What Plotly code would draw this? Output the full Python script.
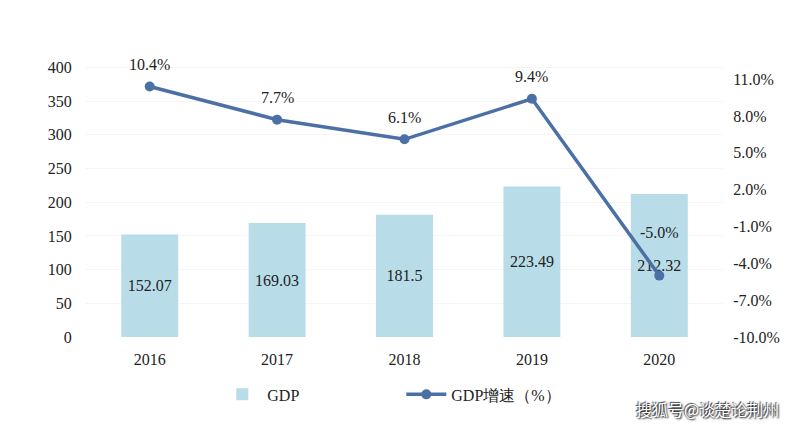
import plotly.graph_objects as go

years = ["2016", "2017", "2018", "2019", "2020"]
gdp = [152.07, 169.03, 181.5, 223.49, 212.32]
gdp_labels = ["152.07", "169.03", "181.5", "223.49", "212.32"]
growth = [10.4, 7.7, 6.1, 9.4, -5.0]
growth_labels = ["10.4%", "7.7%", "6.1%", "9.4%", "-5.0%"]
left_ticks = [0, 50, 100, 150, 200, 250, 300, 350, 400]
right_ticks = [-10, -7, -4, -1, 2, 5, 8, 11]
right_tick_labels = ["-10.0%", "-7.0%", "-4.0%", "-1.0%", "2.0%", "5.0%", "8.0%", "11.0%"]

xpos = list(range(len(years)))
label_shift = [22, 22, 22, 22, 43]

serif = "Liberation Serif, Times New Roman, serif"
txt = "#222222"

fig = go.Figure()
fig.add_trace(go.Bar(
    x=xpos, y=gdp, name="GDP", width=0.447,
    marker=dict(color="#b8dde8", line=dict(width=0)),
    text=gdp_labels, textposition="inside", insidetextanchor="middle",
    textfont=dict(family=serif, size=16, color=txt),
    yaxis="y",
))
fig.add_trace(go.Scatter(
    x=xpos, y=growth, name="GDP增速（%）", mode="lines+markers",
    line=dict(color="#4a70a5", width=3.5),
    marker=dict(color="#4a70a5", size=10),
    yaxis="y2",
))

for x, y, t, s in zip(xpos, growth, growth_labels, label_shift):
    fig.add_annotation(x=x, y=y, xref="x", yref="y2", text=t, showarrow=False,
                       yshift=s, font=dict(family=serif, size=16, color=txt))

fig.add_annotation(xref="paper", yref="paper", x=1.0905, y=-0.267, xanchor="right",
                   yanchor="middle", text="搜狐号@谈楚论荆州", showarrow=False,
                   font=dict(family="Noto Sans CJK SC", size=16, color="white",
                             shadow="1px 1px 2px #000, -1px -1px 1px #444"))

# dark frame edge at the far right of the picture
fig.add_shape(type="rect", xref="paper", yref="paper", x0=1.111, x1=1.2,
              y0=-0.33, y1=1.22, fillcolor="black", line=dict(width=0), layer="above")

fig.update_layout(
    width=792, height=427,
    margin=dict(l=78, r=76.75, t=58, b=97.5),
    paper_bgcolor="white", plot_bgcolor="white",
    font=dict(family=serif, size=16, color=txt),
    showlegend=True,
    legend=dict(orientation="h", x=0.495, xanchor="center", y=-0.212, yanchor="middle",
                font=dict(family=serif, size=16, color=txt), entrywidth=129,
                itemwidth=40),
    xaxis=dict(range=[-0.5, len(years) - 0.5], tickvals=xpos, ticktext=years,
               showline=False, showgrid=False, zeroline=False,
               ticks="outside", ticklen=8, tickcolor="rgba(0,0,0,0)",
               tickfont=dict(family=serif, size=16, color=txt)),
    yaxis=dict(range=[0, 400 * 273 / 271.5], tickvals=left_ticks, showline=False,
               showgrid=True, gridcolor="#f5f5f5", zeroline=False,
               ticks="outside", ticklen=10, tickcolor="rgba(0,0,0,0)",
               tickfont=dict(family=serif, size=16, color=txt)),
    yaxis2=dict(range=[-10, 12.07], tickvals=right_ticks, ticktext=right_tick_labels,
                overlaying="y", side="right", showgrid=False, zeroline=False,
                showline=False, ticks="outside", ticklen=6, tickcolor="rgba(0,0,0,0)",
                tickfont=dict(family=serif, size=16, color=txt)),
)

fig.write_html("out.html")
